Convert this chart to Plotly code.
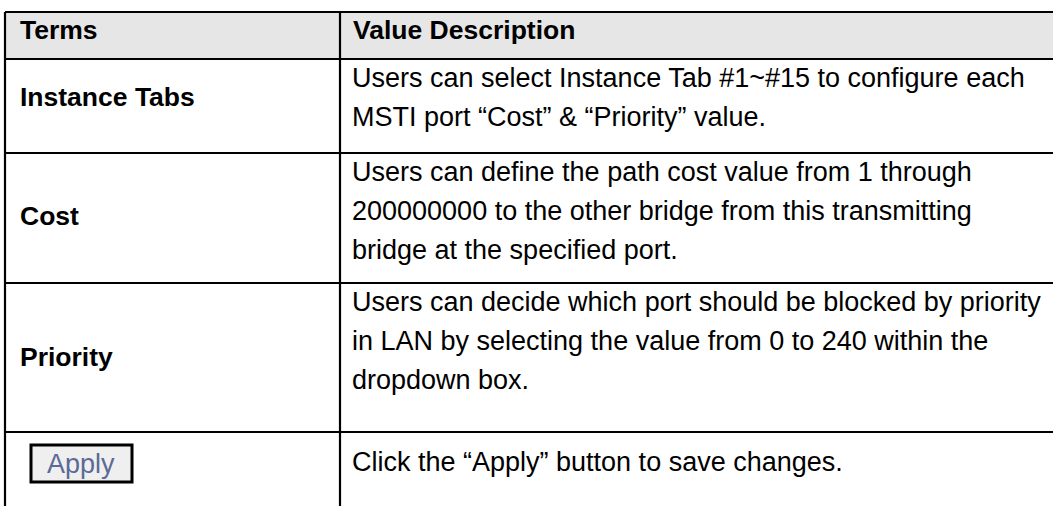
import plotly.graph_objects as go

# ---- table content ----
header = ["Terms", "Value Description"]
terms = ["Instance Tabs", "Cost", "Priority"]
descriptions = [
    ["Users can select Instance Tab #1~#15 to configure each",
     "MSTI port \u201cCost\u201d & \u201cPriority\u201d value."],
    ["Users can define the path cost value from 1 through",
     "200000000 to the other bridge from this transmitting",
     "bridge at the specified port."],
    ["Users can decide which port should be blocked by priority",
     "in LAN by selecting the value from 0 to 240 within the",
     "dropdown box."],
    ["Click the \u201cApply\u201d button to save changes."],
]
button_label = "Apply"

# ---- layout geometry (pixels) ----
W, H = 1053, 506
left, divider, right = 5, 340, 1060
row_edges = [12, 59, 153, 283, 432, 530]
label_y = [97, 216, 357]
first_line_offset = 19
line_gap = 39
FONT = "Liberation Sans, Arial, sans-serif"
FS_BOLD = 26.5
FS = 27

fig = go.Figure()
fig.add_trace(go.Scatter(x=[0, W], y=[0, H], mode="markers",
                         marker=dict(opacity=0), hoverinfo="skip", showlegend=False))

shapes = []
annotations = []

# header fill
shapes.append(dict(type="rect", x0=left, x1=right, y0=row_edges[0], y1=row_edges[1],
                   fillcolor="#e6e6e6", line=dict(width=0), layer="below"))
# horizontal lines
for y in row_edges[:-1]:
    shapes.append(dict(type="line", x0=left, x1=right, y0=y, y1=y,
                       line=dict(color="black", width=2.2)))
# vertical lines
for x in (left, divider):
    shapes.append(dict(type="line", x0=x, x1=x, y0=row_edges[0], y1=row_edges[-1],
                       line=dict(color="black", width=2.2)))

# header text
hdr_y = (row_edges[0] + row_edges[1]) / 2 - 6
for txt, x in zip(header, (18, 351)):
    annotations.append(dict(x=x, y=hdr_y, text="<b>%s</b>" % txt, showarrow=False,
                            xanchor="left", yanchor="middle",
                            font=dict(family=FONT, size=FS_BOLD, color="black")))

# term labels
for txt, y in zip(terms, label_y):
    annotations.append(dict(x=18, y=y, text="<b>%s</b>" % txt, showarrow=False,
                            xanchor="left", yanchor="middle",
                            font=dict(family=FONT, size=FS_BOLD, color="black")))

# descriptions
for i, lines in enumerate(descriptions):
    top = row_edges[i + 1]
    if i == len(descriptions) - 1:
        ys = [462]
    else:
        ys = [top + first_line_offset + k * line_gap for k in range(len(lines))]
    for ln, y in zip(lines, ys):
        annotations.append(dict(x=350, y=y, text=ln, showarrow=False,
                                xanchor="left", yanchor="middle",
                                font=dict(family=FONT, size=FS, color="black")))

# Apply button
shapes.append(dict(type="rect", x0=31, x1=132, y0=445, y1=482,
                   fillcolor="#efefef", line=dict(color="black", width=3)))
annotations.append(dict(x=81, y=464, text=button_label, showarrow=False,
                        xanchor="center", yanchor="middle",
                        font=dict(family=FONT, size=27, color="#5b6a96")))

fig.update_layout(
    width=W, height=H,
    margin=dict(l=0, r=0, t=0, b=0),
    paper_bgcolor="white", plot_bgcolor="white",
    xaxis=dict(range=[0, W], visible=False, fixedrange=True),
    yaxis=dict(range=[H, 0], visible=False, fixedrange=True),
    shapes=shapes, annotations=annotations,
    showlegend=False,
)

fig.write_html("out.html", config={"displayModeBar": False},
               post_script="document.body.style.margin='0';document.body.style.overflow='hidden';")
